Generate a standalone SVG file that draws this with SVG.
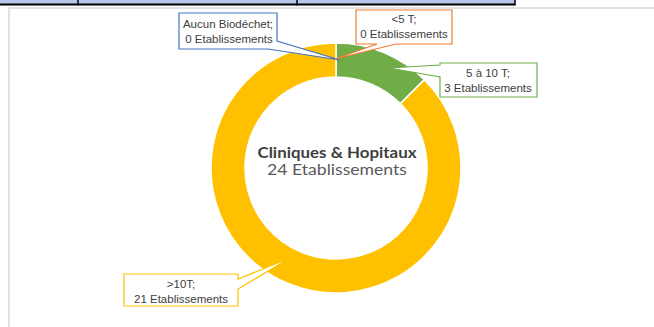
<svg xmlns="http://www.w3.org/2000/svg" width="654" height="327" viewBox="0 0 654 327">
<style>
.lbl{font-family:"Liberation Sans",Arial,sans-serif;font-size:11.5px;fill:#404040;text-anchor:middle}
.co{fill:#fff;stroke-width:1.2}
.seg{stroke:#fff;stroke-width:1.5}
</style>
<rect width="654" height="327" fill="#fff"/>
<g id="table-top">
<rect x="0" y="0" width="515" height="4" fill="#B4C6E7"/>
<line x1="0" y1="4.5" x2="515" y2="4.5" stroke="#000" stroke-width="2"/>
<g stroke="#000" stroke-width="1.5">
<line x1="78" y1="0" x2="78" y2="5.5"/>
<line x1="297" y1="0" x2="297" y2="5.5"/>
<line x1="515" y1="0" x2="515" y2="5.5"/>
</g>
</g>
<path id="frame" d="M9,327 V8 H654" fill="none" stroke="#d9d9d9" stroke-width="1.5"/>
<g id="donut">
<path class="seg" fill="#70AD47" d="M336,43 A125,125 0 0 1 424.39,79.61 L400.35,103.65 A91,91 0 0 0 336,77 Z"/>
<path class="seg" fill="#FFC000" d="M424.39,79.61 A125,125 0 1 1 336,43 L336,77 A91,91 0 1 0 400.35,103.65 Z"/>
</g>
<g id="center-label" font-family="Lato,'Open Sans',sans-serif" text-anchor="middle">
<text x="337" y="158" font-size="15.5" font-weight="bold" fill="#404040" textLength="159" lengthAdjust="spacingAndGlyphs">Cliniques &amp; Hopitaux</text>
<text x="337" y="175" font-size="15.5" fill="#595959" textLength="140" lengthAdjust="spacingAndGlyphs">24 Etablissements</text>
</g>
<g id="connectors">
<path id="co-aucun" class="co" stroke="#4472C4" d="M179,13 H277 V41 L340,60 L268,49 H179 Z"/>
<path id="co-lt5" class="co" stroke="#ED7D31" d="M356,10 H452 V44 H396 L335,59 L377,44 H356 Z"/>
<path id="co-5to10" class="co" stroke="#70AD47" d="M440,63 H537 V97 H440 V77 L389,68 L440,65 Z"/>
<path id="co-gt10" class="co" stroke="#FFC000" d="M124,274 H238 V279 L290,258 L238,289 V306 H124 Z"/>
</g>
<g id="label-aucun">
<text class="lbl" x="228" y="28">Aucun Biodéchet;</text>
<text class="lbl" x="229" y="43">0 Etablissements</text>
</g>
<g id="label-lt5">
<text class="lbl" x="404" y="23">&lt;5 T;</text>
<text class="lbl" x="404" y="38">0 Etablissements</text>
</g>
<g id="label-5to10">
<text class="lbl" x="488" y="77">5 à 10 T;</text>
<text class="lbl" x="488" y="92">3 Etablissements</text>
</g>
<g id="label-gt10">
<text class="lbl" x="181" y="288">&gt;10T;</text>
<text class="lbl" x="181" y="303">21 Etablissements</text>
</g>
</svg>
